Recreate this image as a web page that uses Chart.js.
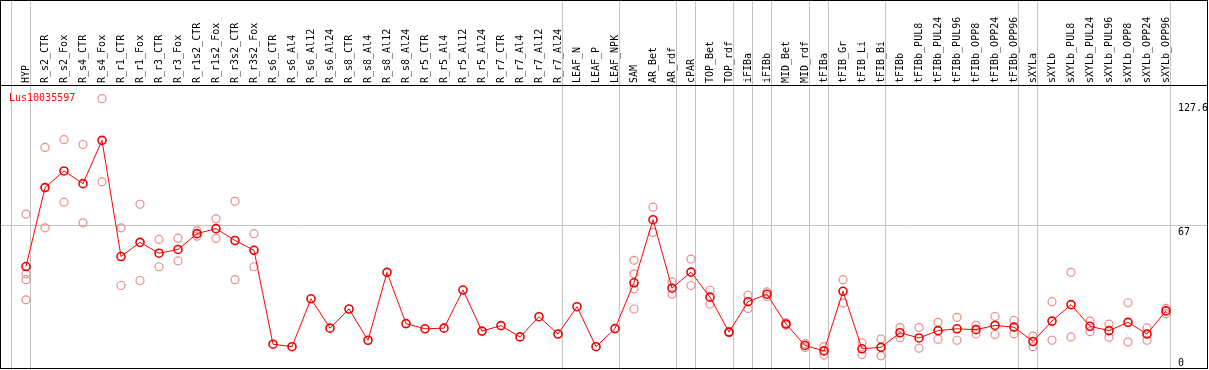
<!DOCTYPE html>
<html>
<head>
<meta charset="utf-8">
<script src="https://cdn.jsdelivr.net/npm/chart.js@4"></script>
<style>
  html, body { margin: 0; padding: 0; background: #fff; }
  #chart { display: block; }
</style>
</head>
<body>
<canvas id="chart" width="1209" height="370"></canvas>
<script>
// expression profile for one gene, mean line + replicate points
const geneName = 'Lus10035597';

const categories = [
  'HYP', 'R_s2_CTR', 'R_s2_Fox', 'R_s4_CTR', 'R_s4_Fox', 'R_r1_CTR', 'R_r1_Fox', 'R_r3_CTR', 'R_r3_Fox',
  'R_r1s2_CTR', 'R_r1s2_Fox', 'R_r3s2_CTR', 'R_r3s2_Fox', 'R_s6_CTR', 'R_s6_Al4', 'R_s6_Al12', 'R_s6_Al24',
  'R_s8_CTR', 'R_s8_Al4', 'R_s8_Al12', 'R_s8_Al24', 'R_r5_CTR', 'R_r5_Al4', 'R_r5_Al12', 'R_r5_Al24',
  'R_r7_CTR', 'R_r7_Al4', 'R_r7_Al12', 'R_r7_Al24', 'LEAF_N', 'LEAF_P', 'LEAF_NPK', 'SAM', 'AR_Bet', 'AR_rdf',
  'cPAR', 'TOP_Bet', 'TOP_rdf', 'iFIBa', 'iFIBb', 'MID_Bet', 'MID_rdf', 'tFIBa', 'tFIB_Gr', 'tFIB_Li', 'tFIB_Bi',
  'tFIBb', 'tFIBb_PUL8', 'tFIBb_PUL24', 'tFIBb_PUL96', 'tFIBb_OPP8', 'tFIBb_OPP24', 'tFIBb_OPP96',
  'sXYLa', 'sXYLb', 'sXYLb_PUL8', 'sXYLb_PUL24', 'sXYLb_PUL96', 'sXYLb_OPP8', 'sXYLb_OPP24', 'sXYLb_OPP96'
];

const meanValues = [
  47.0, 84.9, 92.9, 86.8, 107.6, 51.8, 58.6, 53.4, 55.2,
  62.8, 65.2, 59.5, 54.8, 9.7, 8.5, 31.5, 17.4,
  26.6, 11.6, 44.2, 19.6, 17.1, 17.4, 35.7, 16.0,
  18.6, 13.2, 22.9, 14.6, 27.7, 8.5, 17.2, 39.2, 69.5, 36.6,
  44.3, 32.3, 15.5, 30.1, 33.7, 19.4, 9.1, 6.5, 35.1, 7.5, 8.2,
  15.2, 12.7, 16.2, 17.1, 16.7, 18.7, 17.9,
  11.0, 20.8, 28.7, 18.3, 16.2, 20.2, 14.6, 25.7
];

// replicates (null = no replicate measured)
const repA = [
  72.2, 104.2, 107.9, 105.6, 127.6, 65.6, 76.9, 60.0, 60.6,
  64.1, 69.9, 78.3, 62.8, null, null, null, null,
  null, null, null, null, null, null, null, null,
  null, null, null, null, null, null, null, 50.0, 75.5, 39.6,
  50.6, 35.6, 15.8, 33.2, 34.8, 19.9, 10.0, 8.5, 40.7, 10.3, 12.2,
  17.7, 17.7, 20.2, 22.6, 18.8, 23.0, 21.1,
  13.6, 30.1, 44.2, 20.8, 19.3, 29.6, 17.5, 26.9
];
const repB = [
  43.5, 65.6, 77.9, 68.0, 87.7, 37.9, 40.3, 46.9, 49.7,
  61.6, 60.5, 40.7, 46.9, null, null, null, null,
  null, null, null, null, null, null, null, null,
  null, null, null, null, null, null, null, 43.5, 63.4, 33.7,
  37.9, 29.0, 15.2, 26.9, 32.6, 18.9, 8.1, 4.5, 29.5, 4.7, 4.1,
  12.8, 7.8, 12.1, 11.6, 14.6, 14.4, 14.7,
  8.5, 11.6, 13.2, 15.7, 13.0, 10.7, 11.6, 24.4
];
const repC = [40.7].concat(new Array(31).fill(null), [36.3], new Array(28).fill(null));
const repD = [31.0].concat(new Array(31).fill(null), [26.6], new Array(28).fill(null));

const yTickValues = [127.6, 67, 0];
const yTickLabels = ['127.6', '67', '0'];
const gridValue = 67;
// index after which a grey separator is drawn
const groupEnds = [-1, 0, 28, 31, 34, 35, 37, 38, 39, 41, 42, 45, 52, 53, 60];

const mono = 'DejaVu Sans Mono';

const framePlugin = {
  id: 'frame',
  beforeDatasetsDraw(chart) {
    const { ctx, scales: { x, y }, width, height } = chart;
    const step = x.getPixelForValue(1) - x.getPixelForValue(0);
    ctx.save();
    ctx.strokeStyle = '#c4c4c4';
    ctx.lineWidth = 1;
    ctx.beginPath();
    groupEnds.forEach(i => {
      const px = Math.round(x.getPixelForValue(0) + step * i) + 4 + 0.5;
      ctx.moveTo(px, 0);
      ctx.lineTo(px, height);
    });
    const gy = Math.round(y.getPixelForValue(gridValue)) + 0.5;
    ctx.moveTo(1, gy);
    ctx.lineTo(width - 1, gy);
    ctx.stroke();
    ctx.restore();
  },
  afterDraw(chart) {
    const { ctx, scales: { y }, width, chartArea } = chart;
    ctx.save();
    ctx.strokeStyle = '#000';
    ctx.lineWidth = 1;
    ctx.strokeRect(0.5, 0.5, width - 2, 368);
    ctx.beginPath();
    ctx.moveTo(0, chartArea.top - 0.5);
    ctx.lineTo(width - 1, chartArea.top - 0.5);
    ctx.stroke();

    ctx.font = '10px ' + mono;
    ctx.fillStyle = '#ff0000';
    ctx.textBaseline = 'top';
    ctx.textAlign = 'left';
    ctx.fillText(geneName, 9, 93);

    ctx.fillStyle = '#000';
    yTickValues.forEach((v, i) => {
      let ty = y.getPixelForValue(v) + 3;
      ty = Math.min(ty, 358);
      if (i === 0) ty += 2;
      ctx.fillText(yTickLabels[i], 1178, ty);
    });
    ctx.restore();
  }
};

const repStyle = {
  showLine: false,
  pointRadius: 4,
  pointBorderWidth: 1.2,
  pointBorderColor: 'rgba(232,120,120,0.85)',
  pointBackgroundColor: 'rgba(0,0,0,0)',
  order: 2
};

new Chart(document.getElementById('chart'), {
  type: 'line',
  data: {
    labels: categories,
    datasets: [
      {
        label: geneName,
        data: meanValues,
        borderColor: '#ff0000',
        borderWidth: 1,
        tension: 0,
        pointRadius: 4,
        pointBorderWidth: 1.6,
        pointBorderColor: '#ee0000',
        pointBackgroundColor: 'rgba(0,0,0,0)',
        order: 1
      },
      { ...repStyle, data: repA },
      { ...repStyle, data: repB },
      { ...repStyle, data: repC },
      { ...repStyle, data: repD }
    ]
  },
  options: {
    responsive: false,
    animation: false,
    events: [],
    layout: { padding: { top: 17, left: 16.5, right: 33.5, bottom: 0 } },
    plugins: { legend: { display: false }, tooltip: { enabled: false }, title: { display: false } },
    scales: {
      x: {
        position: 'top',
        offset: true,
        grid: { display: false, drawTicks: false },
        border: { display: false },
        ticks: {
          autoSkip: false, minRotation: 90, maxRotation: 90, padding: 3, labelOffset: 12,
          color: '#000', font: { family: mono, size: 10 }
        },
        afterFit(s) { s.paddingLeft = 0; s.paddingRight = 0; s.height = 69; }
      },
      y: { display: false, min: 0, max: 133.7 }
    }
  },
  plugins: [framePlugin]
});
</script>
</body>
</html>
